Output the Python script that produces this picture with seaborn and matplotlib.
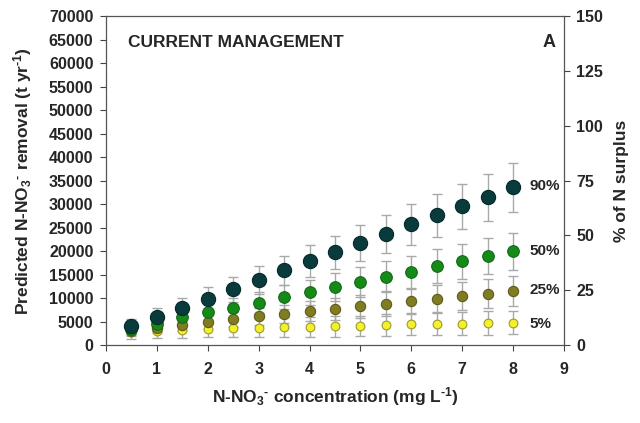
import numpy as np
import pandas as pd
import matplotlib
matplotlib.use("Agg")
import matplotlib.pyplot as plt
import seaborn as sns

# ---- data ----
conc = [0.5, 1.0, 1.5, 2.0, 2.5, 3.0, 3.5, 4.0, 4.5, 5.0, 5.5, 6.0, 6.5, 7.0, 7.5, 8.0]
p90 = [4000, 6000, 8000, 9900, 11900, 13800, 15900, 17900, 19800, 21700, 23700, 25700, 27600, 29500, 31500, 33600]
e90 = [1600, 1900, 2100, 2500, 2700, 3000, 3100, 3300, 3500, 3800, 4000, 4300, 4500, 4800, 5000, 5200]
p50 = [3500, 4600, 5900, 6950, 7950, 9050, 10250, 11250, 12400, 13450, 14600, 15550, 16750, 17800, 18950, 19950]
e50 = [1300, 1500, 1700, 1900, 2100, 2300, 2500, 2700, 2900, 3100, 3300, 3400, 3600, 3700, 3900, 4000]
p25 = [3000, 3700, 4300, 5000, 5550, 6150, 6650, 7200, 7700, 8250, 8850, 9350, 9900, 10450, 10950, 11550]
e25 = [1000, 1100, 1300, 1500, 1600, 1800, 2000, 2100, 2300, 2400, 2600, 2700, 2800, 3000, 3100, 3200]
p5 = [2800, 3050, 3200, 3500, 3650, 3750, 3900, 3900, 4000, 4100, 4250, 4450, 4500, 4600, 4700, 4800]
e5 = [1500, 1600, 1700, 1800, 1900, 2000, 2100, 2100, 2200, 2200, 2300, 2300, 2400, 2400, 2500, 2500]

series_names = ["5%", "25%", "50%", "90%"]
series_vals = [p5, p25, p50, p90]
series_errs = [e5, e25, e50, e90]
face_colors = ["#f4f02a", "#7f7c22", "#158a18", "#0a3b3c"]
edge_colors = ["#9c9a2c", "#5f5c18", "#0f6a12", "#062a2a"]
marker_sizes = [40, 55, 70, 105]

xticks = list(range(0, 10))
yticks = list(range(0, 70001, 5000))
rticks = [0, 25, 50, 75, 100, 125, 150]

# ---- style ----
sns.set_theme(style="white")
plt.rcParams["font.family"] = ["Liberation Sans", "DejaVu Sans"]
plt.rcParams["font.weight"] = "bold"
plt.rcParams["mathtext.fontset"] = "custom"
plt.rcParams["mathtext.rm"] = "Liberation Sans:bold"
plt.rcParams["mathtext.it"] = "Liberation Sans:bold"
plt.rcParams["mathtext.bf"] = "Liberation Sans:bold"
plt.rcParams["mathtext.default"] = "rm"

fig = plt.figure(figsize=(6.4, 4.23), dpi=100)
ax = fig.add_axes([0.1656, 0.184, 0.7156, 0.778])

df = pd.DataFrame({
    "conc": np.tile(conc, len(series_names)),
    "value": np.concatenate(series_vals),
    "series": np.repeat(series_names, len(conc)),
})

for name, vals, errs in zip(series_names, series_vals, series_errs):
    ax.errorbar(conc, vals, yerr=errs, fmt="none", ecolor="#a9a9a9",
                elinewidth=1.0, capsize=3.5, capthick=1.0, zorder=1)

for i, (name, fc, ec, ms) in enumerate(zip(series_names, face_colors, edge_colors, marker_sizes)):
    sub = df[df["series"] == name]
    sns.scatterplot(data=sub, x="conc", y="value", ax=ax, color=fc,
                    edgecolor=ec, linewidth=0.8, s=ms, zorder=3 + i, legend=False)

tick_fs = 11.5
label_fs = 12.5

ax.set_xlim(0, 9)
ax.set_ylim(0, 70000)
ax.set_xticks(xticks)
ax.set_yticks(yticks)
ax.set_xticklabels([str(t) for t in xticks], fontsize=tick_fs, fontweight="bold")
ax.set_yticklabels([str(t) for t in yticks], fontsize=tick_fs, fontweight="bold")
ax.tick_params(axis="both", direction="out", length=4, width=0.8, color="#444444",
               bottom=True, left=True)
ax.tick_params(axis="y", pad=5)
ax.tick_params(axis="x", pad=8)
for sp in ax.spines.values():
    sp.set_color("#555555")
    sp.set_linewidth(0.9)

ax.set_xlabel(r"N-NO$_3$$^{\text{-}}$ concentration (mg L$^{\text{-1}}$)", fontsize=label_fs,
              fontweight="bold", labelpad=6)
ax.set_ylabel(r"Predicted N-NO$_3$$^{\text{-}}$ removal (t yr$^{\text{-1}}$)", fontsize=label_fs,
              fontweight="bold", labelpad=11)

ax.text(0.048, 0.921, "CURRENT MANAGEMENT", transform=ax.transAxes,
        fontsize=12.5, fontweight="bold", va="center", ha="left")
ax.text(0.982, 0.921, "A", transform=ax.transAxes,
        fontsize=13, fontweight="bold", va="center", ha="right")

label_y = [4500, 11800, 20100, 33800]
for name, ly in zip(series_names, label_y):
    ax.text(8.33, ly, name, fontsize=11, fontweight="bold", va="center", ha="left")

ax2 = ax.twinx()
ax2.set_ylim(0, 150)
ax2.set_yticks(rticks)
ax2.set_yticklabels([str(t) for t in rticks], fontsize=tick_fs, fontweight="bold")
ax2.tick_params(axis="y", direction="out", length=4, width=0.8, color="#444444",
                right=True, pad=5)
for sp in ax2.spines.values():
    sp.set_visible(False)
ax2.set_ylabel("% of N surplus", fontsize=label_fs, fontweight="bold", labelpad=8)
ax2.grid(False)
ax.grid(False)

fig.savefig("out.png", dpi=100)
